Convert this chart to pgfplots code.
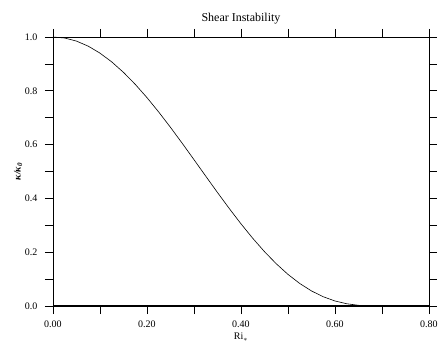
\documentclass[border=0pt]{standalone}
\usepackage{fontspec}
\setmainfont{Liberation Serif}
\usepackage{pgfplots}
\pgfplotsset{compat=1.18}
\begin{document}
\begin{tikzpicture}
\useasboundingbox (-53pt,-37pt) rectangle (386pt,306pt);
\begin{axis}[
  scale only axis, width=376pt, height=269pt,
  xmin=0, xmax=0.8, ymin=0, ymax=1,
  clip=false,
  xtick={0,0.2,0.4,0.6,0.8},
  minor xtick={0.1,0.3,0.5,0.7},
  ytick={0,0.2,0.4,0.6,0.8,1.0},
  minor ytick={0.1,0.3,0.5,0.7,0.9},
  tick align=outside,
  major tick length=8pt, minor tick length=8pt,
  tick style={black, line width=0.8pt},
  axis line style={line width=0.8pt},
  xticklabels={0.00,0.20,0.40,0.60,0.80},
  yticklabels={0.0,0.2,0.4,0.6,0.8,1.0},
  tick label style={font=\normalsize},
  xticklabel style={yshift=-3pt},
  yticklabel style={xshift=-4pt},
  title={Shear Instability},
  title style={font=\large, yshift=3pt},
  xlabel={Ri$_*$},
  xlabel style={font=\normalsize, at={(axis description cs:0.5,0)}, anchor=center, yshift=-31pt},
  ylabel={\textbf{\textit{κ/κ\textsubscript{0}}}},
  ylabel style={font=\normalsize, at={(axis description cs:0,0.5)}, anchor=center, yshift=35pt},
]
\addplot[black, line width=2.4pt] coordinates {(0,0) (0.8,0)};
\addplot[black, line width=0.6pt] coordinates {
(0,1) (0.025,0.99618) (0.05,0.98477) (0.075,0.96595) (0.1,0.94002)
(0.125,0.90735) (0.15,0.86847) (0.175,0.82398) (0.2,0.77455)
(0.225,0.72097) (0.25,0.66408) (0.275,0.60477) (0.3,0.54399)
(0.325,0.48270) (0.35,0.42188) (0.375,0.36248) (0.4,0.30546)
(0.425,0.25169) (0.45,0.20199) (0.475,0.15706) (0.5,0.11750)
(0.525,0.08374) (0.55,0.05603) (0.575,0.03441) (0.6,0.01867)
(0.625,0.00834) (0.65,0.00261) (0.675,0.00035) (0.7,0) (0.8,0)
};
\end{axis}
\end{tikzpicture}
\end{document}
